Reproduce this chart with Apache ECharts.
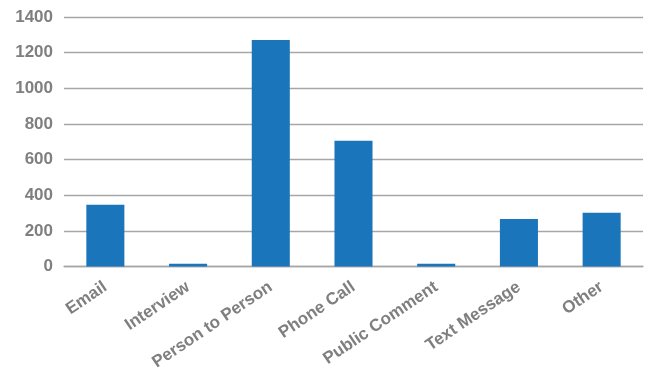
<!DOCTYPE html>
<html><head><meta charset="utf-8">
<script src="https://cdn.jsdelivr.net/npm/echarts@6/dist/echarts.min.js"></script>
<style>html,body{margin:0;padding:0;background:#fff}#c{width:645px;height:377px}</style>
</head><body><div id="c"></div>
<script>
const categories = ["Email","Interview","Person to Person","Phone Call","Public Comment","Text Message","Other"];
const values = [346,15,1271,705,15,267,301];
const yTicks = [0,200,400,600,800,1000,1200,1400];

const chart = echarts.init(document.getElementById('c'));
chart.setOption({
  animation:false,
  grid:{left:64,right:2,top:17,bottom:110.5},
  xAxis:{type:'category',data:categories,
    axisLine:{lineStyle:{color:'#a6a6a6',width:1.3}},axisTick:{show:false},
    axisLabel:{rotate:34,interval:0,color:'#7f7f7f',fontWeight:'bold',fontSize:17,fontFamily:'Liberation Sans, Arial, sans-serif',margin:19}},
  yAxis:{type:'value',min:yTicks[0],max:yTicks[yTicks.length-1],interval:200,
    axisLine:{show:false},axisTick:{show:false},
    splitLine:{lineStyle:{color:'#a6a6a6',width:1.3}},
    axisLabel:{color:'#7f7f7f',fontWeight:'bold',fontSize:17,fontFamily:'Liberation Sans, Arial, sans-serif',margin:11,
      formatter:v=>String(v)}},
  series:[{type:'bar',data:values,barWidth:'46%',itemStyle:{color:'#1b75bb'}}]
});
</script></body></html>
